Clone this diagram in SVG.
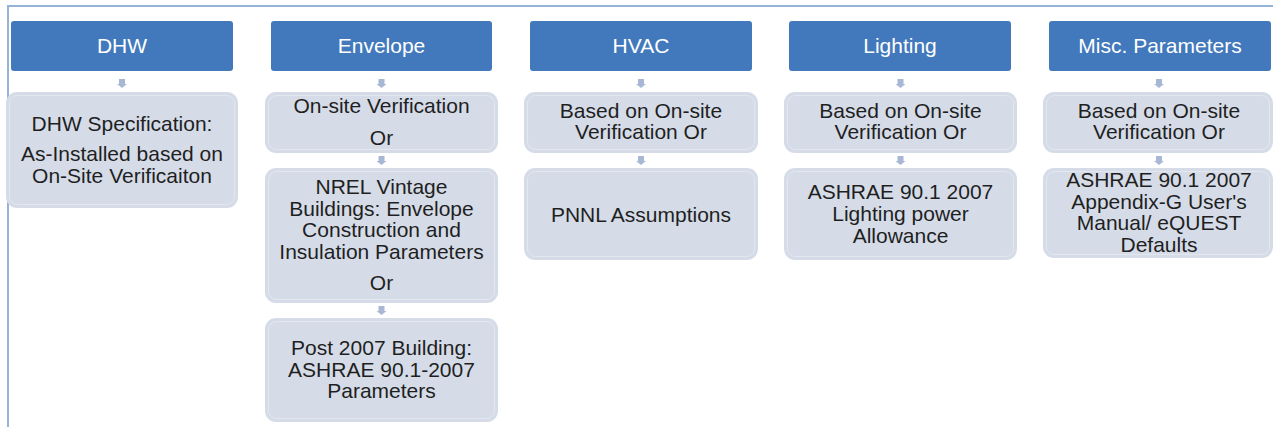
<svg xmlns="http://www.w3.org/2000/svg" width="1273" height="427" viewBox="0 0 1273 427">
<style>
.hdr{fill:#4279bc;}
.box{fill:#d5dce8;}
.inner{fill:none;stroke:#e3e8f0;stroke-width:1;}
.ht{font-family:"Liberation Sans",Arial,sans-serif;font-size:21px;fill:#ffffff;text-anchor:middle;}
.bt{font-family:"Liberation Sans",Arial,sans-serif;font-size:21px;fill:#1f1f1f;text-anchor:middle;}
.arr{fill:#a8b8d4;}
.frame{fill:none;stroke:#95b3d7;stroke-width:2;}
</style>
<defs>
<path id="ar" d="M-3,0 H3 V5 H5 L0,9 L-5,5 H-3 Z"/>
</defs>
<path class="frame" d="M8,427 V6 H1273"/>
<g id="connectors">
<use href="#ar" class="arr" x="122" y="79"/>
<use href="#ar" class="arr" x="381.5" y="79"/>
<use href="#ar" class="arr" x="381.5" y="156"/>
<use href="#ar" class="arr" x="381.5" y="306"/>
<use href="#ar" class="arr" x="641" y="79"/>
<use href="#ar" class="arr" x="641" y="156"/>
<use href="#ar" class="arr" x="900.5" y="79"/>
<use href="#ar" class="arr" x="900.5" y="156"/>
<use href="#ar" class="arr" x="1159" y="79"/>
<use href="#ar" class="arr" x="1159" y="156"/>
</g>
<g id="dhw">
<rect class="hdr" x="11" y="21" width="222" height="50" rx="3"/>
<text class="ht" x="122" y="53">DHW</text>
</g>
<g id="dhw-spec">
<rect class="box" x="6" y="92" width="232" height="116" rx="11"/>
<rect class="inner" x="9.5" y="95.5" width="225" height="109" rx="8"/>
<text class="bt" x="122" y="131">DHW Specification:</text>
<text class="bt" x="122" y="161">As-Installed based on</text>
<text class="bt" x="122" y="183">On-Site Verificaiton</text>
</g>
<g id="envelope">
<rect class="hdr" x="271" y="21" width="221" height="50" rx="3"/>
<text class="ht" x="381.5" y="53">Envelope</text>
</g>
<g id="env-1">
<rect class="box" x="265" y="92" width="233" height="61" rx="11"/>
<rect class="inner" x="268.5" y="95.5" width="226" height="54" rx="8"/>
<text class="bt" x="381.5" y="113">On-site Verification</text>
<text class="bt" x="381.5" y="145">Or</text>
</g>
<g id="env-2">
<rect class="box" x="265" y="168" width="233" height="135" rx="11"/>
<rect class="inner" x="268.5" y="171.5" width="226" height="128" rx="8"/>
<text class="bt" x="381.5" y="194">NREL Vintage</text>
<text class="bt" x="381.5" y="216">Buildings: Envelope</text>
<text class="bt" x="381.5" y="237">Construction and</text>
<text class="bt" x="381.5" y="259">Insulation Parameters</text>
<text class="bt" x="381.5" y="290">Or</text>
</g>
<g id="env-3">
<rect class="box" x="265" y="318" width="233" height="104" rx="11"/>
<rect class="inner" x="268.5" y="321.5" width="226" height="97" rx="8"/>
<text class="bt" x="381.5" y="355">Post 2007 Building:</text>
<text class="bt" x="381.5" y="377">ASHRAE 90.1-2007</text>
<text class="bt" x="381.5" y="398">Parameters</text>
</g>
<g id="hvac">
<rect class="hdr" x="530" y="21" width="222" height="50" rx="3"/>
<text class="ht" x="641" y="53">HVAC</text>
</g>
<g id="hvac-1">
<rect class="box" x="524" y="92" width="234" height="61" rx="11"/>
<rect class="inner" x="527.5" y="95.5" width="227" height="54" rx="8"/>
<text class="bt" x="641" y="118">Based on On-site</text>
<text class="bt" x="641" y="139">Verification Or</text>
</g>
<g id="hvac-2">
<rect class="box" x="524" y="168" width="234" height="92" rx="11"/>
<rect class="inner" x="527.5" y="171.5" width="227" height="85" rx="8"/>
<text class="bt" x="641" y="222">PNNL Assumptions</text>
</g>
<g id="lighting">
<rect class="hdr" x="789" y="21" width="222" height="50" rx="3"/>
<text class="ht" x="900" y="53">Lighting</text>
</g>
<g id="lighting-1">
<rect class="box" x="784" y="92" width="233" height="61" rx="11"/>
<rect class="inner" x="787.5" y="95.5" width="226" height="54" rx="8"/>
<text class="bt" x="900.5" y="118">Based on On-site</text>
<text class="bt" x="900.5" y="139">Verification Or</text>
</g>
<g id="lighting-2">
<rect class="box" x="784" y="168" width="233" height="92" rx="11"/>
<rect class="inner" x="787.5" y="171.5" width="226" height="85" rx="8"/>
<text class="bt" x="900.5" y="199">ASHRAE 90.1 2007</text>
<text class="bt" x="900.5" y="221">Lighting power</text>
<text class="bt" x="900.5" y="243">Allowance</text>
</g>
<g id="misc">
<rect class="hdr" x="1049" y="21" width="222" height="50" rx="3"/>
<text class="ht" x="1160" y="53">Misc. Parameters</text>
</g>
<g id="misc-1">
<rect class="box" x="1043" y="92" width="230" height="61" rx="11"/>
<rect class="inner" x="1046.5" y="95.5" width="223" height="54" rx="8"/>
<text class="bt" x="1159" y="118">Based on On-site</text>
<text class="bt" x="1159" y="139">Verification Or</text>
</g>
<g id="misc-2">
<rect class="box" x="1043" y="168" width="230" height="90" rx="11"/>
<rect class="inner" x="1046.5" y="171.5" width="223" height="83" rx="8"/>
<text class="bt" x="1159" y="187">ASHRAE 90.1 2007</text>
<text class="bt" x="1159" y="209">Appendix-G User's</text>
<text class="bt" x="1159" y="230">Manual/ eQUEST</text>
<text class="bt" x="1159" y="252">Defaults</text>
</g>
</svg>
